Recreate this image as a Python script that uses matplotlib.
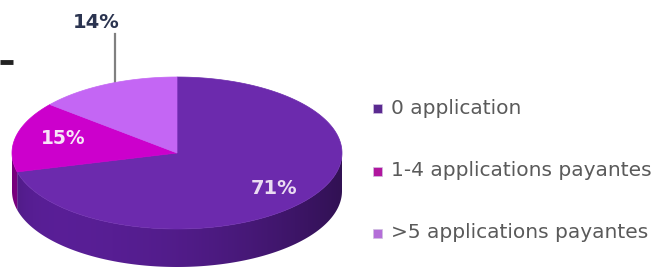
import numpy as np
import matplotlib
matplotlib.use("Agg")
import matplotlib.pyplot as plt
from matplotlib.patches import Polygon, Rectangle
from matplotlib.colors import to_rgb

# donnees du graphique
labels = ["0 application", "1-4 applications payantes", ">5 applications payantes"]
shares = [71, 15, 14]
top_colors = ["#6c2aad", "#cc00cc", "#c466f4"]
side_colors = ["#5a1f98", "#8a0090", "#8a40b8"]
legend_colors = ["#5a2a90", "#b0169e", "#b46ed8"]

# geometrie du camembert (pixels)
cx, cy = 177, 153
a, b = 165, 76
depth = 38


def pt(theta, dy=0):
    t = np.radians(theta)
    return cx + a * np.sin(t), cy - b * np.cos(t) + dy


fig = plt.figure(figsize=(6.57, 2.69), dpi=100)
ax = fig.add_axes([0, 0, 1, 1])
ax.axis("off")

bounds = np.concatenate([[0], np.cumsum(shares)]) * 360 / sum(shares)

# flancs (partie avant seulement, 90..270 degres), degrade horizontal
for i in range(len(shares)):
    start, end = max(bounds[i], 90), min(bounds[i + 1], 270)
    if end <= start:
        continue
    th = np.linspace(start, end, 200)
    top = [pt(t) for t in th]
    bottom = [pt(t, depth) for t in th[::-1]]
    side = Polygon(top + bottom, closed=True, facecolor="none", edgecolor="none")
    ax.add_patch(side)
    u = np.linspace(0, 1, 300)
    f = 1.0 - 0.45 * u ** 2.2 - 0.15 * np.exp(-u / 0.04)
    grad = np.clip(np.array(to_rgb(side_colors[i]))[None, None, :] * f[None, :, None], 0, 1)
    im = ax.imshow(grad, extent=(cx - a, cx + a, cy + b + depth + 2, cy - b),
                   aspect="auto", interpolation="bilinear", zorder=1)
    im.set_clip_path(side)

# dessus
for i in range(len(shares)):
    th = np.linspace(bounds[i], bounds[i + 1], 200)
    verts = [(cx, cy)] + [pt(t) for t in th]
    ax.add_patch(Polygon(verts, closed=True, facecolor=top_colors[i],
                         edgecolor=top_colors[i], lw=0.5, zorder=2))

# etiquettes
ax.text(274, 188, f"{shares[0]}%", ha="center", va="center", fontsize=14,
        fontweight="bold", color="#eadcf2", family="DejaVu Sans", zorder=3)
ax.text(63, 139, f"{shares[1]}%", ha="center", va="center", fontsize=13.5,
        fontweight="bold", color="#f8e4f8", family="DejaVu Sans", zorder=3)
ax.text(96, 23, f"{shares[2]}%", ha="center", va="center", fontsize=14,
        fontweight="bold", color="#2b3450", family="DejaVu Sans", zorder=3)
ax.plot([115, 115], [34, 82], color="#808080", lw=1.6, zorder=1)

# trait coupe a gauche
ax.plot([0, 13], [62, 62], color="#222222", lw=3.5, solid_capstyle="butt")

# legende
rows = [108, 171, 233]
for lab, col, y in zip(labels, legend_colors, rows):
    ax.add_patch(Rectangle((373, y - 4.5), 9, 9, facecolor=col, edgecolor="#d0c0e0", lw=0.5))
    ax.text(391, y, lab, ha="left", va="center", fontsize=14.5,
            color="#5a5a5a", family="DejaVu Sans")

ax.set_xlim(0, 657)
ax.set_ylim(269, 0)
fig.savefig("out.png", dpi=100)
